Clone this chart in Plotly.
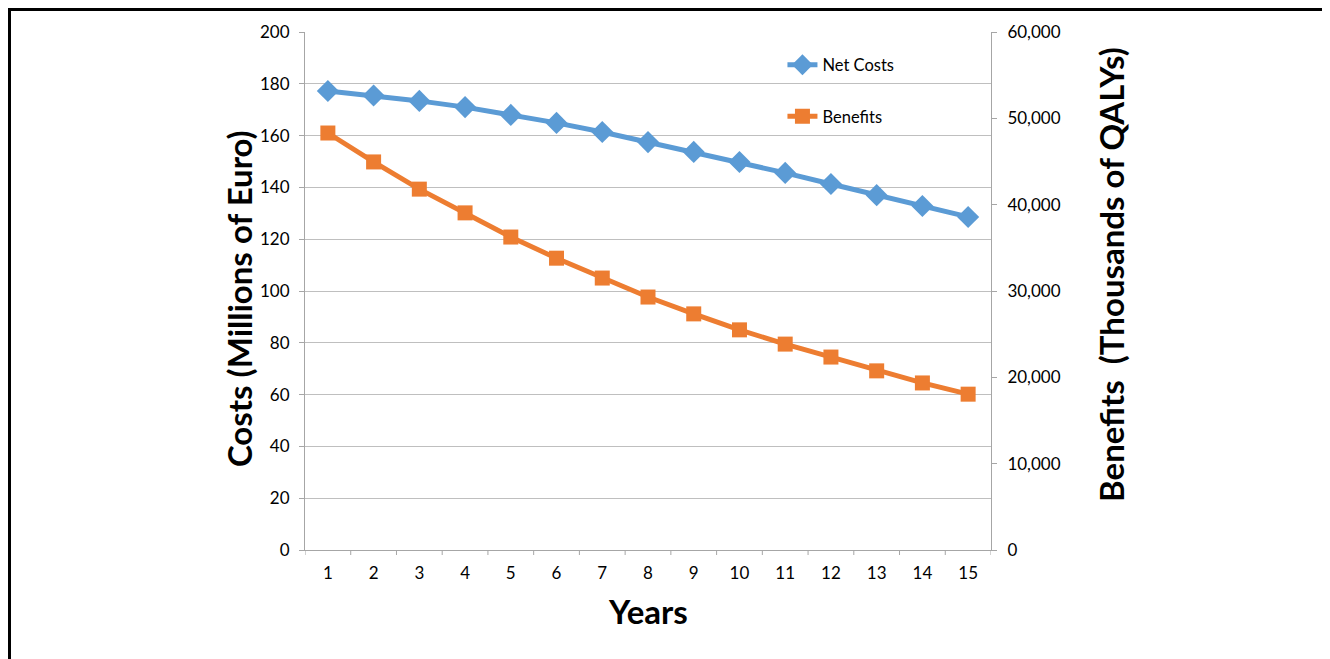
import plotly.graph_objects as go

years = list(range(1, 16))
net_costs = [177.2, 175.5, 173.4, 171.0, 168.0, 164.9, 161.4, 157.5, 153.7, 149.8, 145.6, 141.3, 137.0, 132.8, 128.6]
benefits = [48300, 44950, 41800, 39050, 36250, 33800, 31500, 29300, 27350, 25500, 23850, 22350, 20750, 19350, 18050]

left_ticks = [0, 20, 40, 60, 80, 100, 120, 140, 160, 180, 200]
right_ticks = [0, 10000, 20000, 30000, 40000, 50000, 60000]

BLUE = "#5B9BD5"
ORANGE = "#ED7D31"
GRID = "#BFBFBF"
AXIS = "#A6A6A6"
FONT = "Lato"

W, H = 1322, 651
L, T, PW, PH = 297, 24, 686, 518

fig = go.Figure()
fig.add_trace(go.Scatter(
    x=years, y=net_costs, name="Net Costs", mode="lines+markers", legendgroup="a",
    line=dict(color=BLUE, width=5),
    marker=dict(symbol="diamond", size=17, color=BLUE),
    yaxis="y"))
fig.add_trace(go.Scatter(
    x=years, y=benefits, name="Benefits", mode="lines+markers", legendgroup="b",
    line=dict(color=ORANGE, width=5),
    marker=dict(symbol="square", size=15, color=ORANGE),
    yaxis="y2"))

fig.update_layout(
    width=W, height=H,
    margin=dict(l=L, r=W - L - PW, t=T, b=H - T - PH, autoexpand=False),
    paper_bgcolor="white", plot_bgcolor="white",
    font=dict(family=FONT, size=17, color="#000000"),
    showlegend=True,
    legend=dict(x=0.696, y=0.97, xanchor="left", yanchor="top",
                bgcolor="rgba(0,0,0,0)", font=dict(size=16.5, family=FONT),
                tracegroupgap=27, itemwidth=30),
    xaxis=dict(
        type="linear", range=[0.5, 15.5], tickmode="array", tickvals=years,
        ticktext=[str(y) for y in years],
        showgrid=False, showline=True, linecolor=AXIS, linewidth=1,
        ticks="", zeroline=False, ticklabelstandoff=8,
        tickfont=dict(size=17, family=FONT)),
    yaxis=dict(
        range=[0, 200], tickmode="array", tickvals=left_ticks,
        showgrid=True, gridcolor=GRID, gridwidth=1,
        showline=True, linecolor=AXIS, linewidth=1,
        ticks="outside", ticklen=5, tickcolor=AXIS, zeroline=False,
        ticklabelstandoff=6, tickfont=dict(size=17, family=FONT)),
    yaxis2=dict(
        range=[0, 60000], tickmode="array", tickvals=right_ticks,
        tickformat=",d", overlaying="y", side="right",
        showgrid=False, showline=True, linecolor=AXIS, linewidth=1,
        ticks="outside", ticklen=5, tickcolor=AXIS, zeroline=False,
        ticklabelstandoff=7, tickfont=dict(size=17, family=FONT)),
)

# x-axis tick marks at category boundaries
for b in [k + 0.5 for k in range(0, 16)]:
    fig.add_shape(type="line", xref="x", yref="paper", x0=b, x1=b, y0=0, y1=-5 / PH,
                  line=dict(color=AXIS, width=1))

fig.add_annotation(text="<b>Costs (Millions of Euro)</b>", xref="paper", yref="paper",
                   x=-0.096, y=0.4846, textangle=-90, showarrow=False,
                   font=dict(size=33, family=FONT), xanchor="center", yanchor="middle")
fig.add_annotation(text="<b>Benefits  (Thousands of QALYs)</b>", xref="paper", yref="paper",
                   x=1.175, y=0.531, textangle=-90, showarrow=False,
                   font=dict(size=33, family=FONT), xanchor="center", yanchor="middle")
fig.add_annotation(text="<b>Years</b>", xref="paper", yref="paper",
                   x=0.5, y=-0.118, showarrow=False,
                   font=dict(size=33, family=FONT), xanchor="center", yanchor="middle")

# outer frame
fig.add_shape(type="rect", xref="paper", yref="paper",
              x0=(1.5 - L) / PW, x1=(W - 1.5 - L) / PW,
              y0=(T + PH - 720) / PH, y1=(T + PH - 1.5) / PH,
              line=dict(color="black", width=3), fillcolor="rgba(0,0,0,0)", layer="above")

fig.write_html("out.html")
